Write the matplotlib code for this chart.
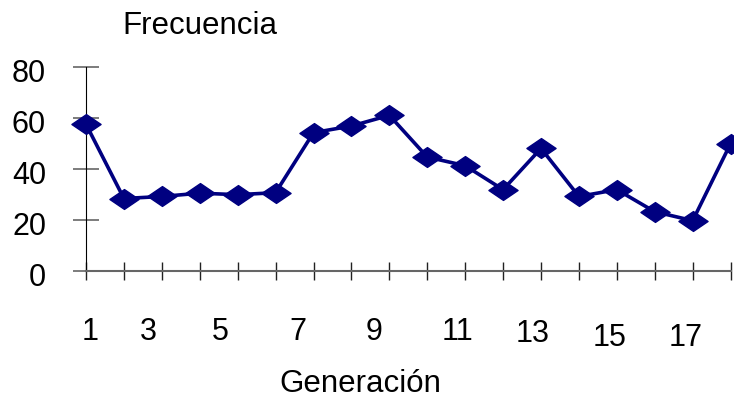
import matplotlib
matplotlib.use("Agg")
import matplotlib.pyplot as plt
from matplotlib.path import Path
import matplotlib.transforms as mtransforms

plt.rcParams['font.family'] = ['Liberation Sans', 'DejaVu Sans']

generacion = list(range(1, 19))
frecuencia = [57.5, 28.3, 29.1, 30.4, 29.8, 30.6, 54.2, 56.8, 61.0,
              44.6, 41.2, 31.8, 48.0, 29.1, 31.8, 23.1, 19.6, 49.9]
xlabels = ['1', '3', '5', '7', '9', '11', '13', '15', '17']
yticks = [0, 20, 40, 60, 80]

fig = plt.figure(figsize=(7.34, 4.0), dpi=100)
ax = fig.add_axes([86 / 734, 1 - 270.5 / 400, 644.6 / 734, 203.5 / 400])

# wide, flat diamond like the spreadsheet marker
diamond = Path([(-1, 0), (0, 0.68), (1, 0), (0, -0.68), (-1, 0)],
               [Path.MOVETO, Path.LINETO, Path.LINETO, Path.LINETO, Path.CLOSEPOLY])
ax.plot(generacion, frecuencia, color='#000080', lw=2.6, marker=diamond,
        markersize=21, markerfacecolor='#000080', markeredgecolor='#000080',
        clip_on=False, zorder=3)

ax.set_xlim(1, 18)
ax.set_ylim(0, 80)
for s in ['top', 'right']:
    ax.spines[s].set_visible(False)
ax.spines['left'].set_color('black')
ax.spines['bottom'].set_color('#666666')
ax.spines['bottom'].set_linewidth(1.5)

ax.set_yticks(yticks)
ax.set_yticklabels([])
ax.tick_params(axis='y', direction='inout', length=19, width=1.2, color='#666666')

ax.set_xticks(generacion)
ax.set_xticklabels([])
ax.tick_params(axis='x', direction='inout', length=13, width=1, color='#222222')

# y labels sit a little below their ticks
for v in yticks:
    trans = ax.get_yaxis_transform() + mtransforms.ScaledTranslation(-0.40, -0.07, fig.dpi_scale_trans)
    ax.text(0, v, str(v), transform=trans, ha='right', va='center', fontsize=22)

# staggered category labels
offsets_px = [4.5, -13, -17, -16, -15, -8, -8, -7, -7]
drops_px = [62, 62, 62, 62, 62, 61, 64, 67.5, 67]
for lab, dx, dy in zip(xlabels, offsets_px, drops_px):
    trans = ax.get_xaxis_transform() + mtransforms.ScaledTranslation(dx / 100, -dy / 100, fig.dpi_scale_trans)
    ax.text(int(lab), 0, lab, transform=trans, ha='center', va='center',
            fontsize=22)

fig.text(200 / 734, 1 - 26 / 400, 'Frecuencia', ha='center', va='center', fontsize=22.5)
fig.text(360 / 734, 1 - 384 / 400, 'Generación', ha='center', va='center', fontsize=22.5)

fig.savefig('out.png', dpi=100)
